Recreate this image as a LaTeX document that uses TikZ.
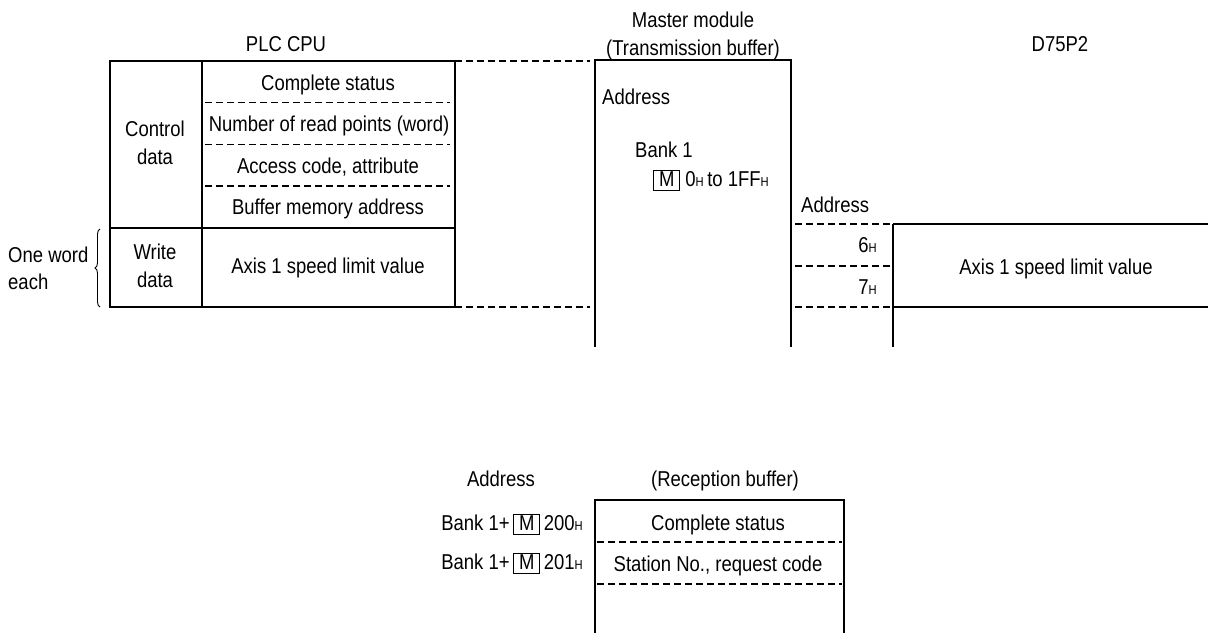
\documentclass[tikz,border=0pt]{standalone}
\usepackage{fontspec}
\setmainfont{Liberation Sans}[FakeStretch=0.86]
\usetikzlibrary{decorations.pathreplacing}
\newcommand\Hsub{{\fontsize{13}{13}\selectfont H}}
\newcommand\Mbox{{\setlength\fboxsep{0pt}\setlength\fboxrule{1pt}\fbox{\makebox[25pt]{\rule[-3pt]{0pt}{19pt}M}}}}
\tikzset{
  lbl/.style={inner sep=0pt, anchor=base},
  lblw/.style={inner sep=0pt, anchor=base west},
  lble/.style={inner sep=0pt, anchor=base east},
  solidline/.style={line width=1.6pt},
  dashline/.style={line width=1.6pt, dash pattern=on 7pt off 4pt},
}
\begin{document}
\begin{tikzpicture}[x=1pt,y=-1pt,font=\fontsize{21.5}{24}\selectfont]
\useasboundingbox[fill=white] (0,0) rectangle (1208,633);
% titles
\node[lbl] (plc) at (286,51.2) {PLC CPU};
\node[lbl] (mm) at (693,27.7) {Master module};
\node[lbl] (tb) at (693,55.7) {(Transmission buffer)};
\node[lbl] (d75) at (1060,51.2) {D75P2};
% PLC CPU table
\coordinate (p1) at (110,60.7);
\coordinate (p2) at (455,306.7);
\draw[solidline] (p1) rectangle (p2);
\coordinate (pd1) at (202,60.7);
\coordinate (pd2) at (202,306.7);
\draw[solidline] (pd1) -- (pd2);
\coordinate (ph1) at (110,227.7);
\coordinate (ph2) at (455,227.7);
\draw[solidline] (ph1) -- (ph2);
\foreach \yy/\nm in {102.3/a,144.3/b,185.7/c}{
  \coordinate (ds\nm) at (205,\yy);
  \coordinate (de\nm) at (450,\yy);
  \draw[dashline] (ds\nm) -- (de\nm);
}
\node[lbl] (cs) at (328,90.7) {Complete status};
\node[lbl] (nr) at (329,131.7) {Number of read points (word)};
\node[lbl] (ac) at (328,173.4) {Access code, attribute};
\node[lbl] (bm) at (328,214.4) {Buffer memory address};
\node[lbl] (ax) at (328,273.7) {Axis 1 speed limit value};
\node[lbl] (ct) at (155,136.7) {Control};
\node[lbl] (cd) at (155,164.7) {data};
\node[lbl] (wr) at (155,259.7) {Write};
\node[lbl] (wd) at (155,287.7) {data};
\node[lblw] (ow) at (8,262.7) {One word};
\node[lblw] (ea) at (8,289.7) {each};
\coordinate (bra) at (100,307);
\coordinate (brb) at (100,229);
\draw[line width=0.9pt, decorate, decoration={brace, amplitude=5pt}] (bra) -- (brb);
% connecting dashed lines
\coordinate (c1) at (455,60.7);
\coordinate (c2) at (590,60.7);
\coordinate (c3) at (455,306.7);
\coordinate (c4) at (590,306.7);
\draw[dashline] (c1) -- (c2);
\draw[dashline] (c3) -- (c4);
% Master module transmission buffer
\coordinate (m1) at (595,347);
\coordinate (m2) at (595,60);
\coordinate (m3) at (791,60);
\coordinate (m4) at (791,347);
\draw[solidline] (m1) -- (m2) -- (m3) -- (m4);
\node[lblw] (ad1) at (602,104.7) {Address};
\node[lblw] (bk) at (635,157.7) {Bank 1};
\node[lblw] (rng) at (653,186.7) {\Mbox\ 0\Hsub\,to 1FF\Hsub};
% D75P2
\node[lblw] (ad2) at (801,212.7) {Address};
\foreach \yy/\nm in {224/a,266/b,307/c}{
  \coordinate (es\nm) at (795,\yy);
  \coordinate (ee\nm) at (893,\yy);
  \draw[dashline] (es\nm) -- (ee\nm);
}
\coordinate (v1) at (893,224);
\coordinate (v2) at (893,347);
\draw[solidline] (v1) -- (v2);
\coordinate (h1) at (1208,224);
\coordinate (h2) at (1208,307);
\draw[solidline] (v1) -- (h1);
\coordinate (v3) at (893,307);
\draw[solidline] (v3) -- (h2);
\node[lble] (six) at (877,252.7) {6\Hsub};
\node[lble] (sev) at (877,294.7) {7\Hsub};
\node[lbl] (ax2) at (1056,274.7) {Axis 1 speed limit value};
% Reception buffer
\node[lbl] (ad3) at (501,486.7) {Address};
\node[lbl] (rb) at (725,486.7) {(Reception buffer)};
\coordinate (r1) at (595,633);
\coordinate (r2) at (595,500);
\coordinate (r3) at (844,500);
\coordinate (r4) at (844,633);
\draw[solidline] (r1) -- (r2) -- (r3) -- (r4);
\foreach \yy/\nm in {541.7/a,584/b}{
  \coordinate (rs\nm) at (597,\yy);
  \coordinate (re\nm) at (842,\yy);
  \draw[dashline] (rs\nm) -- (re\nm);
}
\node[lble] (b200) at (583,530.7) {Bank 1+\,\Mbox\,200\Hsub};
\node[lble] (b201) at (583,569.7) {Bank 1+\,\Mbox\,201\Hsub};
\node[lbl] (rcs) at (718,530.4) {Complete status};
\node[lbl] (rst) at (718,571.7) {Station No., request code};
\end{tikzpicture}
\end{document}
